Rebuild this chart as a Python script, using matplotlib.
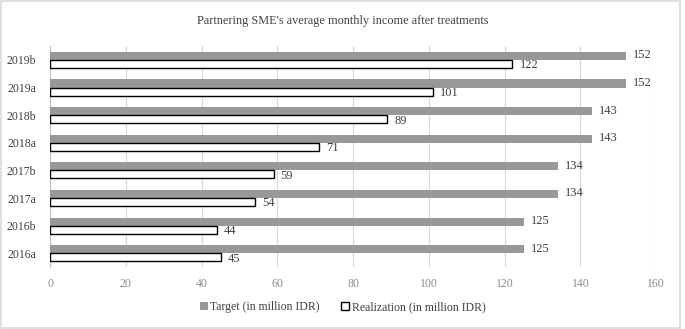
import numpy as np
import matplotlib.pyplot as plt
from matplotlib.patches import Rectangle

plt.rcParams['font.family'] = ['Liberation Serif', 'DejaVu Serif']

years = ['2016a', '2016b', '2017a', '2017b', '2018a', '2018b', '2019a', '2019b']
target = [125, 125, 134, 134, 143, 143, 152, 152]
realization = [45, 44, 54, 59, 71, 89, 101, 122]

fig = plt.figure(figsize=(6.85, 3.29), dpi=100)
ax = fig.add_axes([0.073, 0.188, 0.885, 0.672])

y = np.arange(len(years))
h = 0.29
ax.barh(y + h / 2, target, height=h, color='#989898', label='Target (in million IDR)', zorder=3)
ax.barh(y - h / 2, realization, height=h, color='white', edgecolor='black', linewidth=1.0,
        label='Realization (in million IDR)', zorder=3)

for yi, v in zip(y, target):
    ax.text(v + 1.9, yi + h / 2 + 0.02, str(v), va='center', ha='left', fontsize=9, color='#404040')
for yi, v in zip(y, realization):
    ax.text(v + 1.9, yi - h / 2 - 0.05, str(v), va='center', ha='left', fontsize=9, color='#404040')

ax.set_xlim(0, 160)
ax.set_ylim(-0.5, 7.5)
ax.set_xticks(range(0, 161, 20))
ax.set_yticks(y)
ax.set_yticklabels(years)
ax.tick_params(axis='x', length=0, labelsize=8.5, labelcolor='#8c8c8c', pad=8)
ax.tick_params(axis='y', length=0, labelsize=8.5, labelcolor='#404040', pad=10)
ax.grid(axis='x', color='#d9d9d9', linewidth=0.8, zorder=0)
for s in ['top', 'right', 'bottom']:
    ax.spines[s].set_visible(False)
ax.spines['left'].set_color('#bfbfbf')
ax.spines['left'].set_linewidth(0.8)

fig.text(0.5, 0.935, "Partnering SME's average monthly income after treatments",
         ha='center', va='center', fontsize=8.8, color='#404040')

fig.legend(loc='center', bbox_to_anchor=(0.5, 0.067), ncol=2, frameon=False,
           fontsize=8.5, handlelength=0.7, handleheight=0.7, handletextpad=0.2,
           columnspacing=1.8, labelcolor='#404040')

fig.patches.append(Rectangle((0.002, 0.004), 0.991, 0.992, transform=fig.transFigure,
                             fill=False, edgecolor='#d9d9d9', linewidth=1.2))

fig.savefig('out.png', dpi=100)
